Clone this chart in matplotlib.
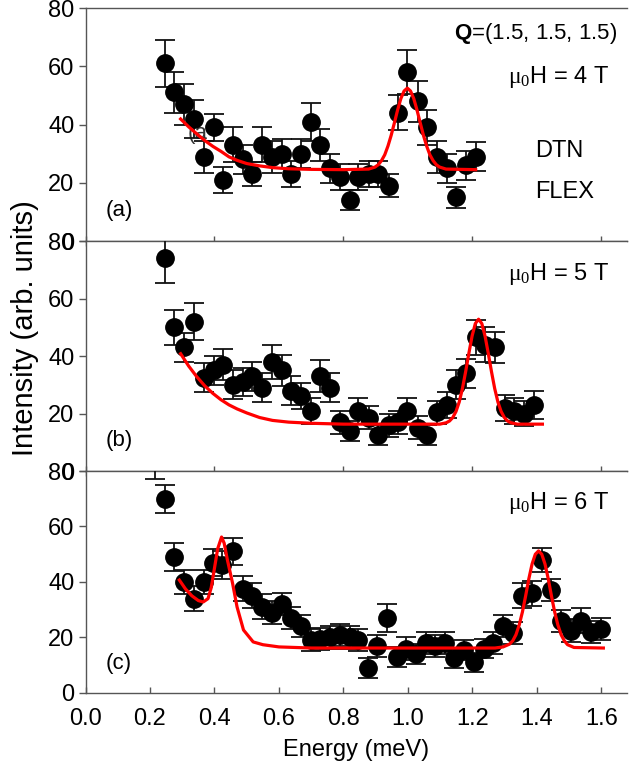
import numpy as np
import matplotlib
matplotlib.use("Agg")
import matplotlib.pyplot as plt

plt.rcParams['font.family'] = ['Liberation Sans', 'DejaVu Sans']
plt.rcParams['mathtext.fontset'] = 'custom'
plt.rcParams['mathtext.rm'] = 'Liberation Serif'
plt.rcParams['mathtext.it'] = 'Liberation Serif:italic'
plt.rcParams['mathtext.bf'] = 'Liberation Sans:bold'

# data panel (a), 4 T
e_a = [0.245, 0.276, 0.304, 0.335, 0.366, 0.397, 0.425, 0.456, 0.487, 0.515, 0.546,
       0.577, 0.608, 0.636, 0.667, 0.698, 0.726, 0.757, 0.788, 0.819, 0.846, 0.878,
       0.908, 0.940, 0.968, 0.998, 1.030, 1.060, 1.090, 1.120, 1.150, 1.180, 1.210]
i_a = [61, 51, 47, 42, 29, 39, 21, 33, 28, 23, 33, 29, 30, 23, 30, 41, 33, 25, 22, 14,
       22, 23, 23, 19, 44, 58, 48, 39, 29, 25, 15, 26, 29]
s_a = [8, 7, 7, 6.5, 5.5, 4.5, 4.5, 6, 5, 4, 6, 5.5, 5, 4.5, 5, 6.5, 5.5, 5, 4.5, 3.5,
       4.5, 4.5, 4.5, 4, 6, 7.5, 7, 6, 5.5, 5, 3.5, 5, 5]
fit_e_a = [0.295, 0.32, 0.345, 0.37, 0.395, 0.42, 0.445, 0.47, 0.50, 0.54, 0.58, 0.63,
           0.70, 0.80, 0.878, 0.898, 0.908, 0.918, 0.928, 0.938, 0.948, 0.958, 0.968,
           0.978, 0.988, 0.998, 1.008, 1.018, 1.028, 1.038, 1.048, 1.058, 1.068, 1.078,
           1.088, 1.098, 1.118, 1.21]
fit_i_a = [41.9, 39.2, 36.8, 34.5, 32.5, 30.8, 28.9, 27.7, 26.6, 25.8, 25.2, 24.8,
           24.6, 24.5, 24.7, 25.4, 26.2, 27.6, 29.6, 32.6, 36.3, 40.6, 45.0, 48.9, 51.5,
           52.5, 51.5, 48.9, 45.0, 40.6, 36.3, 32.6, 29.6, 27.6, 26.2, 25.4, 24.7, 24.5]

# data panel (b), 5 T
e_b = [0.245, 0.276, 0.304, 0.335, 0.366, 0.397, 0.425, 0.456, 0.487, 0.515, 0.546,
       0.577, 0.608, 0.636, 0.667, 0.698, 0.726, 0.757, 0.788, 0.819, 0.846, 0.878,
       0.908, 0.940, 0.968, 0.998, 1.030, 1.060, 1.090, 1.120, 1.150, 1.180, 1.210,
       1.240, 1.270, 1.300, 1.330, 1.360, 1.390]
i_b = [74, 50, 43, 52, 32.5, 35, 37, 30, 31, 33, 29, 38, 35, 28, 26, 21, 33, 29, 17,
       14, 21, 18.5, 12.5, 16, 17, 21, 15, 12.5, 20.5, 23, 30, 34, 46.5, 44, 43, 22,
       21, 20, 23]
s_b = [8.5, 6, 5, 6.5, 5, 5, 5.5, 5, 5, 5, 5, 6, 5.5, 5, 4.5, 4.5, 5.5, 5, 4, 3.5,
       4.5, 4, 3.5, 4, 4, 4.5, 4, 3.5, 4, 4.5, 5, 5, 6, 6, 5.5, 4.5, 4.5, 4.5, 5]
fit_e_b = [0.295, 0.32, 0.345, 0.37, 0.395, 0.42, 0.445, 0.47, 0.50, 0.54, 0.58, 0.63,
           0.70, 0.80, 1.099, 1.119, 1.129, 1.139, 1.149, 1.159, 1.169, 1.179, 1.189,
           1.199, 1.209, 1.219, 1.229, 1.239, 1.249, 1.259, 1.269, 1.279, 1.289, 1.299,
           1.309, 1.319, 1.339, 1.417]
fit_i_b = [40.8, 36.5, 32.8, 29.6, 27.0, 24.8, 23.0, 21.6, 20.2, 18.6, 17.6, 17.0,
           16.6, 16.3, 16.3, 16.8, 17.4, 18.6, 20.7, 24.0, 28.7, 34.6, 41.0, 47.0, 51.3,
           52.8, 51.3, 47.0, 41.0, 34.6, 28.7, 24.0, 20.7, 18.6, 17.4, 16.8, 16.3, 16.3]

# data panel (c), 6 T
e_c = [0.214, 0.245, 0.273, 0.304, 0.335, 0.366, 0.394, 0.422, 0.456, 0.487, 0.515,
       0.546, 0.577, 0.608, 0.636, 0.667, 0.698, 0.726, 0.757, 0.788, 0.819, 0.846,
       0.875, 0.905, 0.936, 0.967, 0.995, 1.026, 1.057, 1.085, 1.116, 1.144, 1.175,
       1.206, 1.237, 1.265, 1.296, 1.327, 1.355, 1.386, 1.417, 1.445, 1.476, 1.507,
       1.538, 1.569, 1.600]
i_c = [88, 70, 49, 40, 34, 40, 47, 46, 51, 37.5, 35, 31, 29, 32, 27, 24, 19, 19.5, 20,
       21, 20, 19, 9, 17, 27, 13, 16, 14, 18, 17, 18, 12.5, 15.5, 11, 16, 18, 24, 21.5,
       35, 36, 48, 37, 26, 22.5, 26, 22, 23]
s_c = [11, 5, 5, 4.5, 4.5, 4.5, 5, 5, 5, 4.5, 4.5, 4.5, 4, 4, 4, 4, 4, 4, 4, 4, 4, 4,
       3.5, 4, 5, 3.5, 4, 3.5, 4, 4, 4, 3.5, 3.5, 3.5, 3.5, 4, 4, 4, 4.5, 4.5, 4.3, 4,
       4, 4, 4.5, 4, 4]
fit_e_c = [0.291, 0.31, 0.33, 0.35, 0.365, 0.38, 0.39, 0.40, 0.41, 0.422, 0.43, 0.44,
           0.456, 0.47, 0.49, 0.52, 0.55, 0.60, 0.70, 1.27, 1.295, 1.315, 1.325, 1.335,
           1.345, 1.355, 1.365, 1.375, 1.385, 1.395, 1.405, 1.415, 1.425, 1.435, 1.445,
           1.455, 1.465, 1.475, 1.485, 1.495, 1.515, 1.606]
fit_i_c = [40.7, 37.5, 35.0, 33.3, 32.8, 34.0, 38.0, 45.0, 52.0, 56.2, 54.0, 48.0,
           39.6, 31.0, 22.7, 18.4, 17.4, 16.6, 16.2, 16.2, 16.6, 17.6, 18.8, 21.0, 24.5,
           29.2, 35.0, 41.2, 46.5, 50.0, 51.2, 50.0, 46.5, 41.2, 35.0, 29.2, 24.5, 21.0,
           18.8, 17.4, 16.4, 16.2]

panels = [
    (e_a, i_a, s_a, fit_e_a, fit_i_a, '(a)', r'$\mathrm{\mu_0}$H = 4 T'),
    (e_b, i_b, s_b, fit_e_b, fit_i_b, '(b)', r'$\mathrm{\mu_0}$H = 5 T'),
    (e_c, i_c, s_c, fit_e_c, fit_i_c, '(c)', r'$\mathrm{\mu_0}$H = 6 T'),
]

fig = plt.figure(figsize=(6.31, 7.71), dpi=100)
boxes = [(0.1355, 0.6874, 0.8585, 0.3022),
         (0.1355, 0.3891, 0.8585, 0.2983),
         (0.1355, 0.1012, 0.8585, 0.2879)]
spine_col = '#555555'
fs = 16

axes = []
for k, (e, y, s, fe, fy, tag, field) in enumerate(panels):
    ax = fig.add_axes(boxes[k])
    ax.errorbar(e, y, yerr=s, fmt='o', color='black', ecolor='#111111', ms=12.5,
                elinewidth=1.3, capsize=7, capthick=1.3, zorder=3)
    ax.plot(fe, fy, color='#ff0000', lw=2.3, zorder=4)
    ax.set_xlim(0, 1.68)
    ax.set_ylim(0, 80)
    ax.set_yticks([0, 20, 40, 60, 80])
    ax.spines['right'].set_visible(False)
    for sp in ['left', 'top', 'bottom']:
        ax.spines[sp].set_color(spine_col)
        ax.spines[sp].set_linewidth(1.0)
    ax.tick_params(axis='y', direction='out', length=5, width=1, color=spine_col,
                   labelsize=fs + 1, pad=3)
    if k < 2:
        ax.set_xticks(np.arange(0, 1.61, 0.4))
        ax.tick_params(axis='x', direction='inout', length=7, width=1,
                       color=spine_col, labelbottom=False)
    else:
        ax.set_xticks(np.arange(0, 1.61, 0.2))
        ax.tick_params(axis='x', direction='in', length=4, width=1,
                       color=spine_col, labelsize=fs + 1, pad=11)
        ax.set_xticklabels(['%.1f' % v for v in np.arange(0, 1.61, 0.2)])
    ax.text(0.062, 10.5, tag, fontsize=fs, ha='left', va='center')
    ax.text(1.31, 56.3 if k == 0 else 68.5, field, fontsize=fs + 1, ha='left',
            va='center')
    axes.append(ax)

ax = axes[0]
ax.text(1.65, 71.4, r'$\mathbf{Q}$=(1.5, 1.5, 1.5)', fontsize=fs, ha='right', va='center')
ax.text(1.395, 31, 'DTN', fontsize=fs + 1, ha='left', va='center')
ax.text(1.395, 16.8, 'FLEX', fontsize=fs + 1, ha='left', va='center')
ax.text(0.318, 37, '(a', fontsize=fs, ha='left', va='center', color='#333333', zorder=1)

axes[2].set_xlabel('Energy (meV)', fontsize=fs + 1, labelpad=6)
fig.text(0.040, 0.575, 'Intensity (arb. units)', fontsize=21, rotation=90,
         ha='center', va='center')

plt.savefig('out.png', dpi=100)
